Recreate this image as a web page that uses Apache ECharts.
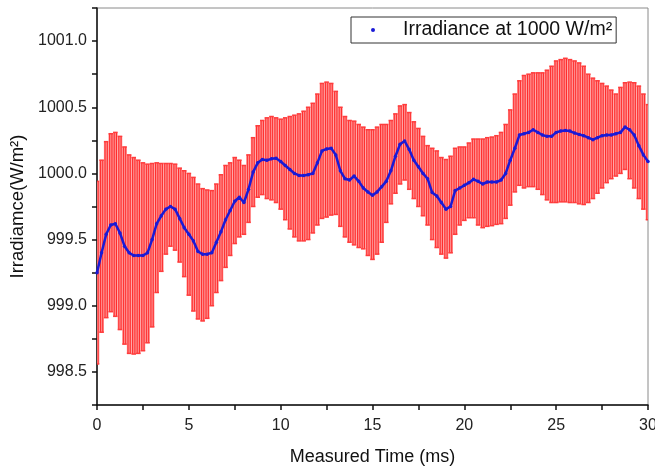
<!DOCTYPE html>
<html>
<head>
<meta charset="utf-8">
<script src="https://cdn.jsdelivr.net/npm/echarts@6/dist/echarts.min.js"></script>
<style>
  html, body { margin: 0; padding: 0; background: #fff; }
  #main { width: 655px; height: 470px; }
</style>
</head>
<body>
<div id="main"></div>
<script>
// sampled every 0.25 ms, 0 .. 30 ms
const step = 0.25;

const meanVals = [
  999.25, 999.40, 999.54, 999.61, 999.62, 999.55, 999.45, 999.40, 999.38, 999.38,
  999.38, 999.40, 999.50, 999.62, 999.68, 999.73, 999.75, 999.73, 999.66, 999.59,
  999.54, 999.49, 999.41, 999.39, 999.39, 999.40, 999.48, 999.56, 999.65, 999.72,
  999.79, 999.82, 999.78, 999.88, 1000.01, 1000.08, 1000.105, 1000.10, 1000.11, 1000.115,
  1000.09, 1000.06, 1000.03, 1000.00, 999.985, 999.985, 999.99, 1000.00, 1000.08, 1000.17,
  1000.185, 1000.19, 1000.14, 1000.02, 999.96, 999.95, 999.98, 999.94, 999.89, 999.86,
  999.835, 999.86, 999.90, 999.94, 1000.02, 1000.13, 1000.22, 1000.245, 1000.18, 1000.10,
  1000.05, 1000.00, 999.96, 999.855, 999.83, 999.78, 999.73, 999.75, 999.87, 999.89,
  999.91, 999.93, 999.955, 999.94, 999.92, 999.935, 999.935, 999.935, 999.95, 1000.00,
  1000.10, 1000.19, 1000.29, 1000.30, 1000.31, 1000.33, 1000.31, 1000.29, 1000.28, 1000.28,
  1000.31, 1000.32, 1000.325, 1000.32, 1000.305, 1000.295, 1000.285, 1000.27, 1000.255, 1000.27,
  1000.285, 1000.29, 1000.29, 1000.30, 1000.31, 1000.35, 1000.33, 1000.29, 1000.21, 1000.14,
  1000.09
];

const upperVals = [
  999.94, 1000.10, 1000.24, 1000.30, 1000.31, 1000.28, 1000.20, 1000.14, 1000.12, 1000.10,
  1000.08, 1000.07, 1000.075, 1000.08, 1000.075, 1000.075, 1000.075, 1000.07, 1000.04, 1000.02,
  1000.00, 999.97, 999.92, 999.885, 999.875, 999.87, 999.92, 999.99, 1000.06, 1000.08,
  1000.12, 1000.10, 1000.06, 1000.14, 1000.27, 1000.36, 1000.40, 1000.42, 1000.43, 1000.42,
  1000.41, 1000.42, 1000.43, 1000.44, 1000.45, 1000.47, 1000.50, 1000.53, 1000.60, 1000.68,
  1000.69, 1000.68, 1000.62, 1000.50, 1000.43, 1000.40, 1000.395, 1000.37, 1000.35, 1000.33,
  1000.33, 1000.35, 1000.37, 1000.37, 1000.40, 1000.45, 1000.51, 1000.52, 1000.46, 1000.39,
  1000.34, 1000.28, 1000.21, 1000.19, 1000.17, 1000.12, 1000.105, 1000.13, 1000.19, 1000.20,
  1000.20, 1000.23, 1000.26, 1000.26, 1000.26, 1000.27, 1000.275, 1000.285, 1000.31, 1000.37,
  1000.48, 1000.60, 1000.70, 1000.74, 1000.75, 1000.76, 1000.76, 1000.76, 1000.78, 1000.81,
  1000.85, 1000.86, 1000.87, 1000.86, 1000.85, 1000.835, 1000.81, 1000.75, 1000.72, 1000.70,
  1000.68, 1000.66, 1000.63, 1000.60, 1000.65, 1000.685, 1000.69, 1000.685, 1000.66, 1000.60,
  1000.52
];

const lowerVals = [
  998.56, 998.80, 998.91, 998.955, 998.92, 998.82, 998.71, 998.64, 998.635, 998.64,
  998.66, 998.72, 998.84, 999.10, 999.26, 999.39, 999.45, 999.42, 999.33, 999.22,
  999.08, 998.96, 998.90, 998.885, 998.905, 999.00, 999.10, 999.19, 999.29, 999.38,
  999.47, 999.52, 999.54, 999.63, 999.75, 999.82, 999.84, 999.81, 999.80, 999.78,
  999.73, 999.65, 999.58, 999.52, 999.49, 999.49, 999.50, 999.55, 999.61, 999.66,
  999.67, 999.685, 999.69, 999.60, 999.52, 999.48, 999.46, 999.44, 999.43, 999.38,
  999.35, 999.39, 999.48, 999.63, 999.77, 999.85, 999.92, 999.95, 999.88, 999.81,
  999.75, 999.68, 999.61, 999.50, 999.44, 999.39, 999.36, 999.40, 999.54, 999.61,
  999.645, 999.665, 999.665, 999.61, 999.59, 999.60, 999.605, 999.615, 999.62, 999.66,
  999.76, 999.86, 999.91, 999.89, 999.90, 999.90, 999.88, 999.84, 999.80, 999.78,
  999.78, 999.785, 999.785, 999.78, 999.78, 999.77, 999.765, 999.78, 999.81, 999.85,
  999.89, 999.93, 999.96, 999.98, 1000.00, 1000.03, 999.96, 999.89, 999.81, 999.73,
  999.65
];

const times = meanVals.map((v, i) => i * step);
const xTicks = [0, 5, 10, 15, 20, 25, 30];
const yTicks = [998.5, 999.0, 999.5, 1000.0, 1000.5, 1001.0];

const font = 'Arial, "Liberation Sans", sans-serif';

let myChart = echarts.init(document.getElementById('main'));

let barData = times.map((t, i) => [t, lowerVals[i], upperVals[i]]);
let meanData = times.map((t, i) => [t, meanVals[i]]);

let option = {
    animation: false,
    grid: {
        left: 97, right: 7, top: 8, bottom: 65,
        outerBoundsMode: 'none',
        containLabel: false,
        show: true, borderColor: '#8a8a8a', borderWidth: 1
    },
    legend: {
        data: [{ name: 'Irradiance at 1000 W/m²', icon: 'circle' }],
        left: 351, top: 17,
        itemWidth: 4, itemHeight: 4,
        borderColor: '#333', borderWidth: 1,
        padding: [3, 4, 3, 20],
        textStyle: { fontFamily: font, fontSize: 19.5, color: '#111', padding: [0, 0, 0, 23], lineHeight: 19 }
    },
    xAxis: {
        type: 'value', min: 0, max: 30, interval: 2.5,
        name: 'Measured Time (ms)', nameLocation: 'middle', nameGap: 43,
        nameTextStyle: { fontFamily: font, fontSize: 18, color: '#111' },
        axisLine: { lineStyle: { color: '#111', width: 1.5 } },
        axisTick: { length: 5, lineStyle: { color: '#111', width: 1.5 } },
        axisLabel: {
            margin: 13, fontFamily: font, fontSize: 16, color: '#222',
            formatter: v => xTicks.indexOf(v) >= 0 ? String(v) : ''
        },
        splitLine: { show: false }
    },
    yAxis: {
        type: 'value', min: 998.25, max: 1001.25, interval: 0.25,
        name: 'Irradiamce(W/m²)', nameLocation: 'middle', nameGap: 62,
        nameTextStyle: { fontFamily: font, fontSize: 18.5, color: '#111' },
        axisLine: { show: true, lineStyle: { color: '#111', width: 1.5 } },
        axisTick: { show: true, length: 5, lineStyle: { color: '#111', width: 1.5 } },
        axisLabel: {
            margin: 10, fontFamily: font, fontSize: 16, color: '#222',
            formatter: v => yTicks.some(t => Math.abs(t - v) < 1e-6) ? v.toFixed(1) : ''
        },
        splitLine: { show: false }
    },
    series: [
        {
            name: 'error',
            type: 'custom',
            clip: true,
            data: barData,
            renderItem: function (params, api) {
                let t = api.value(0);
                let lo = api.coord([t, api.value(1)]);
                let hi = api.coord([t, api.value(2)]);
                let w = api.size([step, 0])[0];
                let cx = lo[0];
                let stripe = { stroke: '#ff1414', lineWidth: 0.8 };
                let cap = { stroke: '#ff3c3c', lineWidth: 1.5 };
                return {
                    type: 'group',
                    children: [
                        { type: 'rect', shape: { x: cx - w / 2, y: hi[1], width: w, height: lo[1] - hi[1] },
                          style: { fill: '#ff8a8a' } },
                        { type: 'line', shape: { x1: cx - w / 4, y1: hi[1], x2: cx - w / 4, y2: lo[1] }, style: stripe },
                        { type: 'line', shape: { x1: cx + w / 4, y1: hi[1], x2: cx + w / 4, y2: lo[1] }, style: stripe },
                        { type: 'line', shape: { x1: cx - w / 2, y1: hi[1], x2: cx + w / 2, y2: hi[1] }, style: cap },
                        { type: 'line', shape: { x1: cx - w / 2, y1: lo[1], x2: cx + w / 2, y2: lo[1] }, style: cap }
                    ]
                };
            },
            z: 1
        },
        {
            name: 'Irradiance at 1000 W/m²',
            type: 'line',
            data: meanData,
            color: '#1a1ad6',
            symbol: 'circle',
            symbolSize: 3.5,
            showSymbol: true,
            lineStyle: { width: 2.5, color: '#1a1ad6' },
            itemStyle: { color: '#1a1ad6' },
            z: 3
        }
    ]
};

myChart.setOption(option);
</script>
</body>
</html>
